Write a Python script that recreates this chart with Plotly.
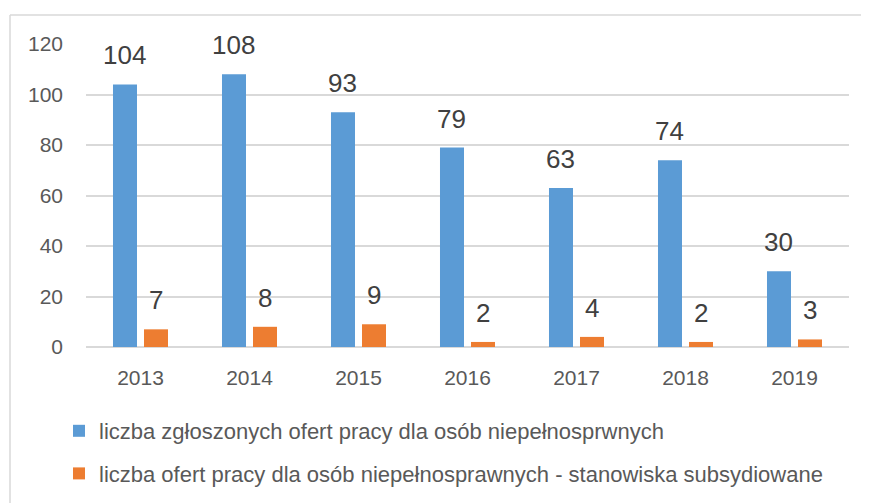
import plotly.graph_objects as go

years = ["2013", "2014", "2015", "2016", "2017", "2018", "2019"]
offers_total = [104, 108, 93, 79, 63, 74, 30]
offers_subsidised = [7, 8, 9, 2, 4, 2, 3]
name_total = "liczba zgłoszonych ofert pracy dla osób niepełnosprwnych"
name_subsidised = "liczba ofert pracy dla osób niepełnosprawnych - stanowiska subsydiowane"
y_ticks = [0, 20, 40, 60, 80, 100, 120]

BLUE = "#5B9BD5"
ORANGE = "#ED7D31"
FONT = "Liberation Sans"

# page body has an 8px margin; the figure is sized to fill the rest of the window
W, H = 861, 495
ML, MR, MT, MB = 78, 20, 36, 156
BARGAP, GROUPGAP = 0.431, 0.226
plot_w = W - ML - MR
plot_h = H - MT - MB
cat_w = plot_w / len(years)
slot = (1 - BARGAP) / 2 * cat_w
shift = slot / 2

fig = go.Figure()
fig.add_trace(go.Bar(x=years, y=offers_total, name=name_total, marker_color=BLUE,
                     marker_line_width=0, legendgroup="a"))
fig.add_trace(go.Bar(x=years, y=offers_subsidised, name=name_subsidised, marker_color=ORANGE,
                     marker_line_width=0, legendgroup="b"))

annotations = []
for vals, dx in ((offers_total, -shift), (offers_subsidised, shift)):
    for i, v in enumerate(vals):
        annotations.append(dict(x=i, y=v, xref="x", yref="y", text=str(v), showarrow=False,
                                xshift=dx, yshift=12, yanchor="bottom", xanchor="center",
                                font=dict(family=FONT, size=26, color="#404040")))

# chart frame (top and left edges visible)
fx = (2 - ML) / plot_w
fy = (H - MB - 7) / plot_h
shapes = [
    dict(type="line", xref="paper", yref="paper", x0=fx, x1=1.2, y0=fy, y1=fy,
         line=dict(color="#d9d9d9", width=1.5)),
    dict(type="line", xref="paper", yref="paper", x0=fx, x1=fx, y0=fy, y1=-1,
         line=dict(color="#d9d9d9", width=1.5)),
]

fig.update_layout(
    width=W, height=H,
    margin=dict(l=ML, r=MR, t=MT, b=MB, autoexpand=False),
    paper_bgcolor="white", plot_bgcolor="white",
    barmode="group", bargap=BARGAP, bargroupgap=GROUPGAP,
    font=dict(family=FONT, color="#595959"),
    annotations=annotations,
    shapes=shapes,
    legend=dict(orientation="v", x=(51 - ML) / plot_w, xanchor="left",
                y=(H - MB - 402) / plot_h, yanchor="top",
                font=dict(family=FONT, size=22, color="#595959"),
                tracegroupgap=11, bgcolor="rgba(0,0,0,0)"),
    showlegend=True,
)
fig.update_xaxes(type="category", range=[-0.5, len(years) - 0.5], showgrid=False,
                 showline=False, zeroline=False, ticks="",
                 tickfont=dict(family=FONT, size=21, color="#595959"),
                 ticklabelstandoff=16)
fig.update_yaxes(range=[0, 120], tickvals=y_ticks, showgrid=True, gridcolor="#d9d9d9",
                 gridwidth=1.5, zeroline=True, zerolinecolor="#d9d9d9", zerolinewidth=1.5,
                 showline=False, ticks="",
                 tickfont=dict(family=FONT, size=21, color="#595959"),
                 ticklabelstandoff=22)

fig.write_html("out.html")
